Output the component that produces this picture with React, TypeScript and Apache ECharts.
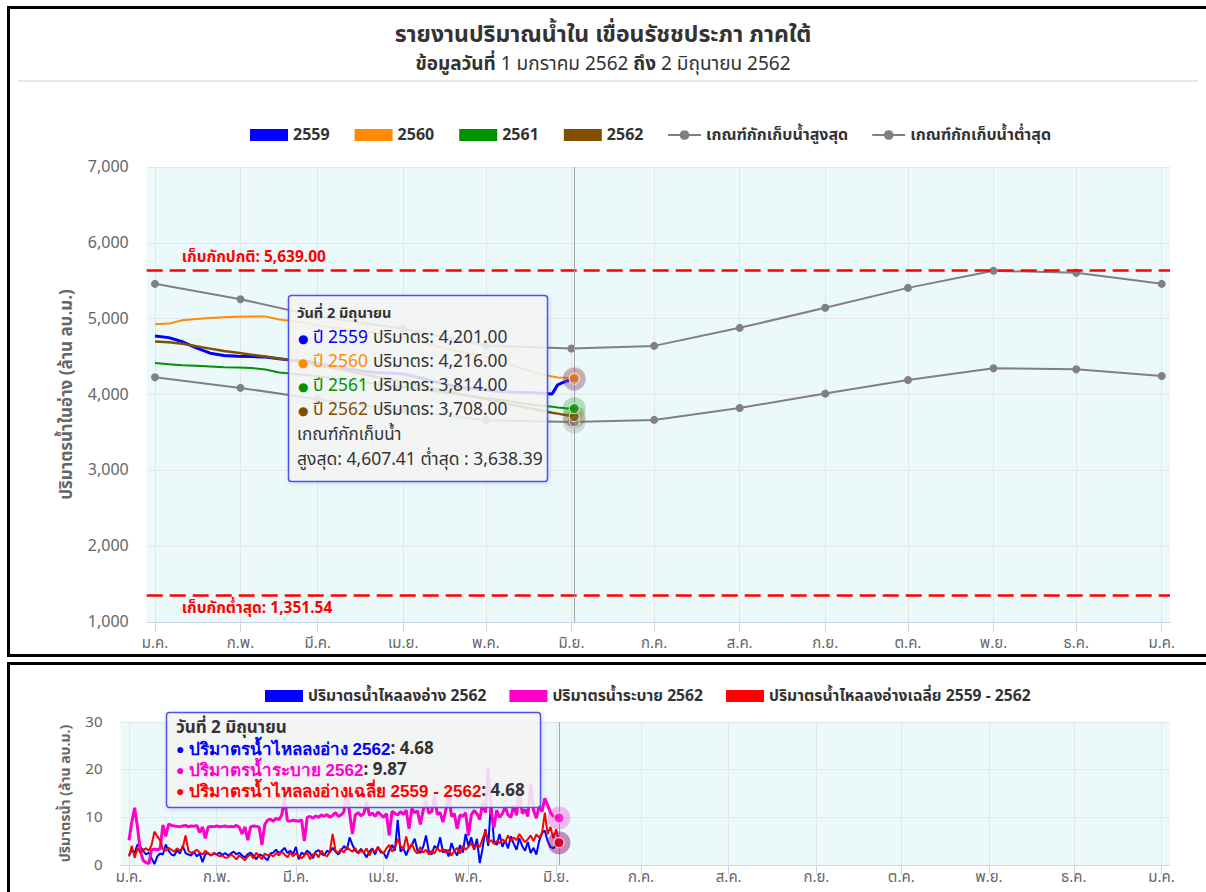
import React, { useEffect, useRef } from "react";
import * as echarts from "echarts";

const FONT = "'Noto Sans Thai', 'Noto Sans', 'DejaVu Sans', sans-serif";

// ---------- texts ----------
const thaiMonths = ["ม.ค.", "ก.พ.", "มี.ค.", "เม.ย.", "พ.ค.", "มิ.ย.", "ก.ค.", "ส.ค.", "ก.ย.", "ต.ค.", "พ.ย.", "ธ.ค."];
const chartTitle = "รายงานปริมาณน้ำใน เขื่อนรัชชประภา ภาคใต้";
const chartSubtitle = "{b|ข้อมูลวันที่} 1 มกราคม 2562 {b|ถึง} 2 มิถุนายน 2562";
const storageAxisName = "ปริมาตรน้ำในอ่าง (ล้าน ลบ.ม.)";
const flowAxisName = "ปริมาตรน้ำ (ล้าน ลบ.ม.)";
const storageNames = ["2559", "2560", "2561", "2562"];
const criteriaNames = ["เกณฑ์กักเก็บน้ำสูงสุด", "เกณฑ์กักเก็บน้ำต่ำสุด"];
const flowNames = ["ปริมาตรน้ำไหลลงอ่าง 2562", "ปริมาตรน้ำระบาย 2562", "ปริมาตรน้ำไหลลงอ่างเฉลี่ย 2559 - 2562"];

// ---------- storage (day offset from 1 Jan) ----------
const storageDays = [0, 5, 10, 15, 20, 25, 30, 35, 40, 45, 50, 55, 60, 65, 70, 75, 80, 85, 90, 95, 100, 105, 110, 115, 120, 125, 130, 135, 140, 144, 146, 149, 152];
const storage2559 = [4770, 4750, 4695, 4615, 4545, 4515, 4505, 4500, 4495, 4470, 4450, 4440, 4400, 4370, 4340, 4310, 4290, 4280, 4270, 4230, 4180, 4140, 4100, 4080, 4060, 4040, 4030, 4025, 4015, 4008, 4127, 4175, 4201];
const storage2560 = [4925, 4935, 4980, 4995, 5010, 5020, 5025, 5030, 5030, 4990, 4965, 4940, 4905, 4880, 4860, 4835, 4810, 4790, 4760, 4720, 4660, 4610, 4570, 4535, 4500, 4440, 4380, 4320, 4270, 4236, 4225, 4220, 4216];
const storage2561 = [4415, 4400, 4385, 4380, 4370, 4360, 4355, 4350, 4330, 4290, 4275, 4255, 4235, 4210, 4190, 4165, 4140, 4120, 4100, 4075, 4050, 4025, 4000, 3980, 3955, 3930, 3900, 3875, 3855, 3840, 3830, 3820, 3814];
const storage2562 = [4700, 4690, 4670, 4635, 4605, 4575, 4550, 4525, 4500, 4470, 4450, 4415, 4380, 4345, 4305, 4270, 4235, 4200, 4165, 4125, 4090, 4050, 4010, 3975, 3940, 3900, 3860, 3825, 3790, 3760, 3748, 3728, 3708];

// criteria curves, one value per month start (Jan 2562 .. Jan 2563)
const criteriaMonths = [0, 1, 2, 3, 4, 5, 6, 7, 8, 9, 10, 11, 12];
const criteriaHigh = [5459, 5257, 5030, 4866, 4645, 4607, 4641, 4879, 5143, 5406, 5631, 5604, 5459];
const criteriaLow = [4228, 4087, 3938, 3790, 3660, 3638, 3665, 3823, 4012, 4192, 4346, 4333, 4245];
const normalStorage = 5639.0;
const minimumStorage = 1351.54;
const criteriaHighFocus = 4607.41;
const criteriaLowFocus = 3638.39;
const focusDay = 152;

// ---------- daily flows 1 Jan .. 2 Jun ----------
const inflow2562 = [
  2.0, 3.2, 2.5, 4.3, 3.8, 3.0, 2.2, 2.6, 1.4, 0.2,
  1.8, 2.4, 2.2, 4.3, 3.0, 2.2, 2.0, 3.1, 2.4, 4.0,
  2.5, 2.2, 2.0, 2.8, 1.8, 2.4, 0.6, 2.3, 2.5, 2.0,
  2.4, 2.2, 2.6, 2.1, 2.5, 2.0, 2.4, 2.8, 2.2, 2.6,
  2.0, 1.6, 2.3, 2.6, 2.0, 1.2, 2.2, 2.0, 1.5, 1.0,
  2.4, 2.6, 3.2, 2.5, 3.0, 3.6, 2.5, 3.0, 2.3, 3.8,
  1.2, 2.6, 2.2, 3.0, 2.5, 1.4, 2.8, 3.1, 2.4, 2.0,
  3.0, 2.6, 3.6, 2.8, 2.2, 3.0, 4.0, 3.2, 5.8, 4.2,
  3.0, 2.5, 3.4, 2.6, 1.6, 2.8, 3.5, 2.2, 3.8, 2.6,
  2.6, 1.4, 3.0, 4.2, 3.0, 9.5, 2.8, 3.5, 2.0, 3.6,
  4.2, 5.5, 3.0, 2.5, 3.8, 6.2, 2.8, 2.2, 4.0, 3.4,
  5.8, 2.6, 3.2, 1.8, 4.6, 3.0, 2.0, 4.2, 2.6, 6.5,
  4.0, 5.8, 3.2, 5.5, 0.4, 3.5, 7.5, 4.0, 13.5, 5.0,
  4.2, 6.5, 3.8, 5.2, 3.5, 6.0, 4.5, 3.2, 5.6, 4.0,
  3.0, 4.8, 2.5, 3.6, 2.2, 5.0, 6.8, 7.2, 5.0, 3.8,
  3.5, 4.2, 4.68,
];
const release2562 = [
  5.2, 9.0, 12.0, 8.0, 3.0, 1.0, 0.5, 0.3, 3.2, 3.3,
  3.2, 3.4, 8.4, 6.0, 8.6, 8.3, 8.2, 8.1, 8.0, 8.2,
  8.3, 8.0, 8.2, 8.1, 8.3, 6.8, 8.0, 5.6, 8.0, 8.1,
  8.0, 8.2, 8.0, 8.1, 8.2, 8.0, 8.1, 8.0, 8.3, 7.9,
  6.5, 8.0, 5.2, 8.0, 8.2, 8.1, 8.0, 4.2, 8.5, 9.4,
  9.6, 9.2, 9.8, 9.5, 10.5, 14.0, 9.3, 9.2, 9.4, 9.3,
  9.2, 9.5, 5.0, 10.0, 10.2, 9.8, 10.3, 10.0, 10.5, 10.2,
  10.6, 10.0, 10.4, 11.0, 10.2, 10.5, 11.2, 16.3, 10.8, 6.5,
  10.5, 11.0, 10.3, 10.8, 13.2, 10.4, 10.9, 10.2, 11.1, 10.6,
  10.0, 10.8, 6.2, 11.3, 10.8, 10.5, 11.2, 10.6, 11.5, 7.6,
  11.8, 11.0, 11.3, 8.5, 11.5, 13.5, 10.8, 11.2, 14.5, 10.6,
  11.0, 9.0, 11.5, 14.8, 10.2, 10.8, 7.6, 10.5, 10.2, 11.0,
  6.2, 10.5, 11.4, 10.8, 9.5, 13.0, 11.0, 20.3, 11.5, 7.8,
  11.5, 10.0, 10.8, 12.2, 10.5, 10.0, 12.5, 10.4, 16.0, 10.8,
  11.6, 10.2, 17.0, 11.5, 9.8, 12.4, 11.2, 14.0, 12.5, 11.0,
  10.2, 10.0, 9.87,
];
const avgInflow = [
  1.8, 4.0, 1.5, 3.5, 2.6, 3.2, 3.5, 3.0, 4.2, 7.0,
  6.0, 5.2, 3.3, 3.0, 3.6, 3.2, 2.8, 3.5, 3.0, 3.6,
  6.2, 3.0, 2.5, 2.8, 3.2, 2.6, 2.2, 3.0, 2.4, 2.0,
  2.6, 2.2, 1.8, 2.0, 1.5, 1.6, 2.2, 1.8, 1.2, 2.0,
  1.5, 1.0, 1.8, 2.2, 1.4, 2.6, 1.8, 1.2, 2.4, 2.0,
  2.2, 1.8, 2.5, 2.0, 2.8, 2.2, 1.6, 2.6, 1.8, 2.4,
  2.0, 1.4, 2.0, 2.6, 1.2, 2.2, 2.5, 1.6, 3.0, 2.2,
  1.8, 2.8, 6.5, 3.0, 2.5, 3.4, 2.6, 3.8, 3.2, 2.8,
  3.6, 2.4, 3.0, 2.6, 3.5, 2.0, 3.2, 2.8, 3.8, 3.0,
  2.4, 3.5, 4.2, 2.8, 3.6, 5.5, 4.0, 3.4, 6.0, 3.2,
  4.5, 3.0, 2.4, 3.8, 2.6, 3.2, 2.2, 3.0, 2.4, 3.6,
  2.8, 3.4, 2.6, 3.2, 2.0, 3.0, 3.6, 2.4, 4.0, 3.2,
  3.8, 4.6, 3.4, 4.2, 3.8, 5.5, 7.2, 4.8, 5.2, 4.4,
  5.0, 4.6, 5.4, 4.8, 6.2, 5.0, 5.8, 5.2, 6.5, 5.6,
  4.8, 5.4, 6.2, 5.0, 6.4, 5.8, 6.6, 11.0, 6.5, 8.0,
  5.6, 7.5, 4.68,
];

// ---------- colours ----------
const storageColors = ["#0000ff", "#ff8c00", "#009300", "#805000"];
const criteriaColor = "#808080";
const flowColors = ["#0000ff", "#ff00cc", "#ff0000"];

const dayTime = (d: number) => new Date(2019, 0, 1 + d).getTime();
const monthTime = (m: number) => new Date(2019, m, 1).getTime();
const monthTicks = criteriaMonths.map(monthTime);
const axisMin = new Date(2018, 11, 29).getTime();
const axisMax = new Date(2020, 0, 4).getTime();
const fmt = (v: number, digits: number) =>
  v.toLocaleString("en-US", { minimumFractionDigits: digits, maximumFractionDigits: digits });
const last = (a: number[]) => a[a.length - 1];

function makeXAxis(gridIndex: number, fontSize: number, margin: number) {
  return {
    type: "value",
    gridIndex,
    min: axisMin,
    max: axisMax,
    axisLine: { show: true, lineStyle: { color: "#ccd6eb", width: 1 } },
    axisTick: { show: true, customValues: monthTicks, length: 10, lineStyle: { color: "#ccd6eb" } },
    axisLabel: {
      customValues: monthTicks,
      formatter: (v: number) => thaiMonths[new Date(v).getMonth()],
      color: "#666666",
      fontSize,
      margin,
      fontFamily: FONT,
    },
    splitLine: { show: true, lineStyle: { color: "#e6e6e6", width: 1 } },
  };
}

function focusMarkers(color: string, value: number, axis: number) {
  return [
    {
      type: "scatter",
      xAxisIndex: axis,
      yAxisIndex: axis,
      data: [[dayTime(focusDay), value]],
      symbolSize: 23,
      itemStyle: { color, opacity: 0.25 },
      silent: true,
      z: 6,
    },
    {
      type: "scatter",
      xAxisIndex: axis,
      yAxisIndex: axis,
      data: [[dayTime(focusDay), value]],
      symbolSize: 10,
      itemStyle: { color, borderColor: "#ffffff", borderWidth: 1 },
      silent: true,
      z: 7,
    },
  ];
}

function buildOption() {
  const storageSets = [storage2559, storage2560, storage2561, storage2562];
  const storageWidths = [3, 2, 2, 2.5];
  const redLabel = {
    show: true,
    color: "#ff0000",
    fontSize: 15.5,
    fontWeight: "bold",
    fontFamily: FONT,
    padding: [0, 0, 0, 30],
  };
  const storageSeries = storageSets.map((vals, i) => ({
    type: "line",
    name: storageNames[i],
    xAxisIndex: 0,
    yAxisIndex: 0,
    data: storageDays.map((d, j) => [dayTime(d), vals[j]]),
    symbol: "none",
    lineStyle: { color: storageColors[i], width: storageWidths[i] },
    itemStyle: { color: storageColors[i] },
    z: 3,
    ...(i === 0
      ? {
          markLine: {
            silent: true,
            symbol: ["none", "none"],
            data: [
              {
                yAxis: normalStorage,
                lineStyle: { color: "#ff0000", width: 2.5, type: [16, 7] },
                label: { ...redLabel, position: "insideStartTop", formatter: "เก็บกักปกติ: " + fmt(normalStorage, 2) },
              },
              {
                yAxis: minimumStorage,
                lineStyle: { color: "#ff0000", width: 2.5, type: [16, 7] },
                label: { ...redLabel, position: "insideStartBottom", formatter: "เก็บกักต่ำสุด: " + fmt(minimumStorage, 2) },
              },
              {
                xAxis: dayTime(focusDay),
                lineStyle: { color: "#a6a6a6", width: 1, type: "solid" },
                label: { show: false },
              },
            ],
          },
        }
      : {}),
  }));

  const criteriaSeries = [criteriaHigh, criteriaLow].map((vals, i) => ({
    type: "line",
    name: criteriaNames[i],
    xAxisIndex: 0,
    yAxisIndex: 0,
    data: criteriaMonths.map((m, j) => [monthTime(m), vals[j]]),
    symbol: "circle",
    symbolSize: 8,
    showSymbol: true,
    lineStyle: { color: criteriaColor, width: 2 },
    itemStyle: { color: criteriaColor },
    z: 4,
  }));

  const flowSets = [inflow2562, release2562, avgInflow];
  const flowWidths = [2, 3, 2];
  const flowSeries = flowSets.map((vals, i) => ({
    type: "line",
    name: flowNames[i],
    xAxisIndex: 1,
    yAxisIndex: 1,
    data: vals.map((v, d) => [dayTime(d), v]),
    symbol: "none",
    lineStyle: { color: flowColors[i], width: flowWidths[i] },
    itemStyle: { color: flowColors[i] },
    z: 3,
    ...(i === 0
      ? {
          markLine: {
            silent: true,
            symbol: ["none", "none"],
            data: [
              {
                xAxis: dayTime(focusDay),
                lineStyle: { color: "#a6a6a6", width: 1, type: "solid" },
                label: { show: false },
              },
            ],
          },
        }
      : {}),
  }));

  const markers = [
    ...focusMarkers(criteriaColor, criteriaLowFocus, 0),
    ...focusMarkers(storageColors[3], last(storage2562), 0),
    ...focusMarkers(storageColors[2], last(storage2561), 0),
    ...focusMarkers(storageColors[0], last(storage2559), 0),
    ...focusMarkers(storageColors[1], last(storage2560), 0),
    ...focusMarkers(flowColors[0], last(inflow2562), 1),
    ...focusMarkers(flowColors[2], last(avgInflow), 1),
    ...focusMarkers(flowColors[1], last(release2562), 1),
  ];

  const tipText = (
    x: number,
    y: number,
    text: string,
    rich: any,
    size = 15,
    weight: any = "normal",
    lh = 20,
    fill = "#333333"
  ) => ({
    type: "text",
    x,
    y,
    z: 101,
    style: {
      text,
      rich,
      fill,
      fontSize: size,
      fontWeight: weight,
      fontFamily: FONT,
      lineHeight: lh,
      verticalAlign: "middle",
    },
  });

  const topRows = storageSets.flatMap((vals, i) => [
    tipText(298, 339 + i * 24, "●", undefined, 12, "normal", 16, storageColors[i]),
    tipText(313, 338 + i * 24, `ปี ${storageNames[i]}`, undefined, 17.4, "normal", 20, storageColors[i]),
    tipText(373, 338 + i * 24, `ปริมาตร: ${fmt(last(vals), 2)}`, undefined, 17.4, "normal", 20),
  ]);

  const flowValues = [last(inflow2562), last(release2562), last(avgInflow)];
  const bottomRows = flowNames.map((n, i) =>
    tipText(176, 749 + i * 21, `{d|●} {c|${n}}: ${fmt(flowValues[i], 2)}`, {
      d: { fill: flowColors[i], fontSize: 14, lineHeight: 18 },
      c: { fill: flowColors[i], fontSize: 17, fontWeight: "bold", lineHeight: 18 },
    }, 17, "bold", 18)
  );

  const tipBox = (x: number, y: number, w: number, h: number) => ({
    type: "rect",
    z: 100,
    shape: { x, y, width: w, height: h, r: 3 },
    style: {
      fill: "rgba(247,247,247,0.85)",
      stroke: "#4f4ff5",
      lineWidth: 1.5,
      shadowBlur: 4,
      shadowOffsetX: 1,
      shadowOffsetY: 1,
      shadowColor: "rgba(0,0,0,0.15)",
    },
  });

  const graphic = [
    {
      type: "rect",
      z: 120,
      shape: { x: 8.5, y: 7.5, width: 1300, height: 648 },
      style: { fill: "none", stroke: "#000000", lineWidth: 3 },
    },
    {
      type: "rect",
      z: 120,
      shape: { x: 8.5, y: 663.5, width: 1300, height: 300 },
      style: { fill: "none", stroke: "#000000", lineWidth: 3 },
    },
    {
      type: "line",
      z: 10,
      shape: { x1: 18, y1: 81, x2: 1198, y2: 81 },
      style: { stroke: "#e6e6e6", lineWidth: 2 },
    },
    tipBox(288.5, 295.5, 259, 186),
    tipText(297, 314, "วันที่ 2 มิถุนายน", undefined, 14.5, "bold"),
    ...topRows,
    tipText(297, 435, "เกณฑ์กักเก็บน้ำ", undefined, 17),
    tipText(297, 459, `สูงสุด: ${fmt(criteriaHighFocus, 2)} ต่ำสุด : ${fmt(criteriaLowFocus, 2)}`, undefined, 17.5),
    tipBox(166.5, 712.5, 374, 95),
    tipText(176, 728, "วันที่ 2 มิถุนายน", undefined, 17, "bold", 18),
    ...bottomRows,
  ];

  const legendFont = { fontSize: 16, fontWeight: "bold", color: "#333333", fontFamily: FONT };

  return {
    animation: false,
    textStyle: { fontFamily: FONT },
    title: [
      {
        text: chartTitle,
        left: "center",
        top: 18,
        textStyle: { fontSize: 23, fontWeight: "bold", color: "#333333", fontFamily: FONT },
      },
      {
        text: chartSubtitle,
        left: "center",
        top: 50,
        textStyle: {
          fontSize: 19,
          fontWeight: "normal",
          color: "#333333",
          fontFamily: FONT,
          rich: { b: { fontSize: 19, fontWeight: "bold", color: "#333333", fontFamily: FONT } },
        },
      },
    ],
    legend: [
      {
        top: 122,
        left: 245,
        itemWidth: 38,
        itemHeight: 12,
        itemGap: 25,
        textStyle: legendFont,
        data: storageNames.map((n) => ({ name: n, icon: "rect" })),
      },
      {
        top: 122,
        left: 662,
        itemWidth: 33,
        itemHeight: 12,
        itemGap: 23,
        textStyle: legendFont,
        data: criteriaNames.map((n) => ({ name: n })),
      },
      {
        top: 683,
        left: 260,
        itemWidth: 38,
        itemHeight: 12,
        itemGap: 23,
        textStyle: { ...legendFont, fontSize: 15.7 },
        data: flowNames.map((n) => ({ name: n, icon: "rect" })),
      },
    ],
    grid: [
      { left: 146.7, right: 36, top: 167, height: 455, show: true, backgroundColor: "#ebf9fa", borderWidth: 0 },
      { left: 120.5, right: 36, top: 722, height: 143, show: true, backgroundColor: "#ebf9fa", borderWidth: 0 },
    ],
    xAxis: [makeXAxis(0, 15, 14), makeXAxis(1, 15, 5)],
    yAxis: [
      {
        type: "value",
        gridIndex: 0,
        min: 1000,
        max: 7000,
        interval: 1000,
        axisLine: { show: false },
        axisTick: { show: false },
        axisLabel: {
          color: "#666666",
          fontSize: 16,
          margin: 18,
          fontFamily: FONT,
          formatter: (v: number) => fmt(v, 0),
        },
        splitLine: { lineStyle: { color: "#e6e6e6" } },
        name: storageAxisName,
        nameLocation: "middle",
        nameGap: 71,
        nameTextStyle: { color: "#666666", fontSize: 17, fontWeight: "bold", fontFamily: FONT },
      },
      {
        type: "value",
        gridIndex: 1,
        min: 0,
        max: 30,
        interval: 10,
        axisLine: { show: false },
        axisTick: { show: false },
        axisLabel: { color: "#666666", fontSize: 15, margin: 18, fontFamily: FONT },
        splitLine: { lineStyle: { color: "#e6e6e6" } },
        name: flowAxisName,
        nameLocation: "middle",
        nameGap: 48,
        nameTextStyle: { color: "#666666", fontSize: 14, fontWeight: "bold", fontFamily: FONT },
      },
    ],
    series: [...storageSeries, ...criteriaSeries, ...flowSeries, ...markers],
    graphic,
  };
}

export default function App() {
  const ref = useRef<HTMLDivElement>(null);
  useEffect(() => {
    if (!ref.current) return;
    const chart = echarts.init(ref.current, undefined, { renderer: "svg" });
    chart.setOption(buildOption() as any);
    return () => chart.dispose();
  }, []);
  return (
    <div
      ref={ref}
      style={{ position: "absolute", left: 0, top: 0, width: 1206, height: 892, background: "#ffffff" }}
    />
  );
}
